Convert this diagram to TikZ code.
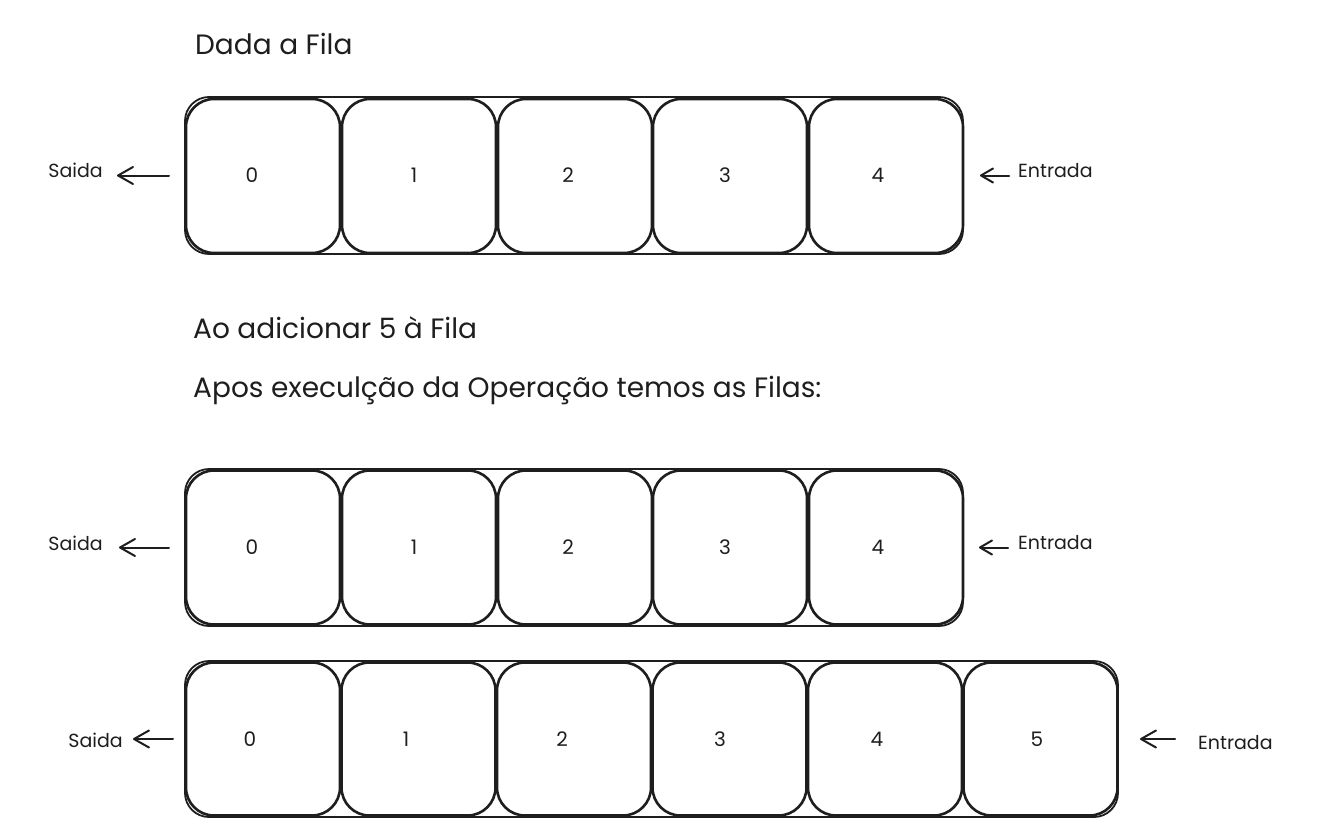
\documentclass[tikz,border=0pt]{standalone}
\usepackage{fontspec}
\setmainfont{Poppins}
\usetikzlibrary{arrows.meta}
\definecolor{inkc}{HTML}{1E1E1E}
\begin{document}
\begin{tikzpicture}[x=1pt,y=-1pt,
  outerbox/.style={draw=inkc, line width=1.8pt, rounded corners=24pt, inner sep=0pt, outer sep=0pt},
  cellbox/.style={draw=inkc, line width=2.6pt, rounded corners=28pt, minimum width=154pt, inner sep=0pt, outer sep=0pt},
  digit/.style={text=inkc, inner sep=0pt, font=\fontsize{20}{20}\selectfont},
  title/.style={text=inkc, inner sep=0pt, anchor=base west, font=\fontsize{28}{28}\selectfont},
  side/.style={text=inkc, inner sep=0pt, font=\fontsize{19}{19}\selectfont},
  arrbig/.style={draw=inkc, line width=2pt, line cap=round, -{Straight Barb[length=15pt,width=17pt,line cap=round,line join=round]}},
  arrsmall/.style={draw=inkc, line width=2pt, line cap=round, -{Straight Barb[length=12pt,width=14pt,line cap=round,line join=round]}}
]
\useasboundingbox (0,0) rectangle (1320,832);
\fill[white] (0,0) rectangle (1320,832);

% titles
\node[title] (t1) at (195,55) {Dada a Fila};
\node[title] (t2) at (193,338) {Ao adicionar 5 à Fila};
\node[title] (t3) at (193,397) {Apos execulção da Operação temos as Filas:};

% row 1
\node[outerbox, minimum width=778pt, minimum height=157pt] (q1) at (574,175.5) {};
\foreach \i/\cx in {0/263,1/419,2/575,3/730,4/886}
  \node[cellbox, minimum height=154pt] (r1c\i) at (\cx,176) {};
\foreach \i/\dx in {0/252,1/414,2/568,3/725,4/878}
  \node[digit] (r1d\i) at (\dx,175) {\i};

% row 2
\node[outerbox, minimum width=778pt, minimum height=157pt] (q2) at (574,547.5) {};
\foreach \i/\cx in {0/263,1/419,2/575,3/730,4/886}
  \node[cellbox, minimum height=154pt] (r2c\i) at (\cx,547.5) {};
\foreach \i/\dx in {0/252,1/414,2/568,3/725,4/878}
  \node[digit] (r2d\i) at (\dx,547) {\i};

% row 3
\node[outerbox, minimum width=933pt, minimum height=156pt] (q3) at (651.5,739) {};
\foreach \i/\cx in {0/263,1/418.5,2/574,3/729.5,4/885,5/1040.5}
  \node[cellbox, minimum height=153pt] (r3c\i) at (\cx,739) {};
\foreach \i/\dx in {0/250,1/406,2/562,3/720,4/877,5/1037}
  \node[digit] (r3d\i) at (\dx,739) {\i};

% side labels
\node[side, anchor=base east] (s1) at (103,178) {Saida};
\node[side, anchor=base west] (e1) at (1018,178) {Entrada};
\node[side, anchor=base east] (s2) at (103,550) {Saida};
\node[side, anchor=base west] (e2) at (1018,549) {Entrada};
\node[side, anchor=base east] (s3) at (123,747) {Saida};
\node[side, anchor=base west] (e3) at (1198,749) {Entrada};

% arrow free ends
\coordinate (s1tip) at (117,175.5);
\coordinate (e1tail) at (1009,175.5);
\coordinate (s2tip) at (119,547.5);
\coordinate (e2tail) at (1008,547.5);
\coordinate (s3tip) at (133,739);
\coordinate (e3tail) at (1175,739);

\draw[arrbig, shorten <=16pt] (q1.west) -- (s1tip);
\draw[arrsmall, shorten >=17pt] (e1tail) -- (q1.east);
\draw[arrbig, shorten <=16pt] (q2.west) -- (s2tip);
\draw[arrsmall, shorten >=16pt] (e2tail) -- (q2.east);
\draw[arrbig, shorten <=12pt] (q3.west) -- (s3tip);
\draw[arrbig, shorten >=22pt] (e3tail) -- (q3.east);
\end{tikzpicture}
\end{document}
